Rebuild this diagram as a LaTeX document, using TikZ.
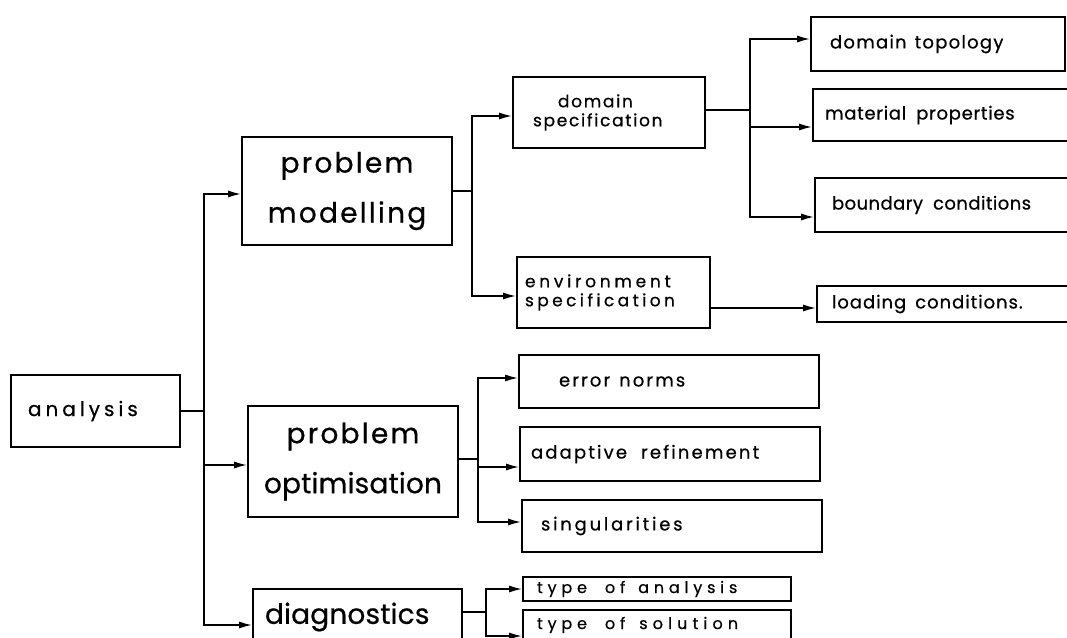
\documentclass[tikz,border=0pt]{standalone}
\usepackage{fontspec}
\setmainfont{Poppins}[FakeBold=0.6]
\usetikzlibrary{arrows.meta}
\newcommand{\lsp}[2]{{\addfontfeature{LetterSpace=#1}#2}}
\tikzset{
  box/.style={draw, line width=1.7pt, rectangle, inner sep=0pt},
  ln/.style={line width=1.7pt},
  arr/.style={line width=1.7pt, -{Latex[length=13pt,width=7pt]}},
  big/.style={font=\fontsize{28}{50}\selectfont, align=center},
  mid/.style={font=\fontsize{20}{22}\selectfont, align=left},
  sml/.style={font=\fontsize{17}{19}\selectfont, align=left},
  rgt/.style={font=\fontsize{18}{20}\selectfont, align=left},
  tiny/.style={font=\fontsize{16}{18}\selectfont, align=left}
}
\begin{document}
\begin{tikzpicture}[x=1pt,y=-1pt]
\useasboundingbox (0,0) rectangle (1067,637);
% level 0
\node[box, mid, minimum width=169pt, minimum height=72pt, text width=135pt] (an) at (95.5,411) {\lsp{20}{analysis}};
% level 1
\node[box, big, minimum width=210pt, minimum height=108pt, text width=200pt] (pm) at (347,191) {\lsp{8}{problem}\\\lsp{8}{modelling}};
\node[box, big, minimum width=210pt, minimum height=111pt, text width=200pt] (po) at (353,461.5) {\lsp{8}{problem}\\\lsp{0.6}{optimisation}};
\node[box, big, align=left, minimum width=209pt, minimum height=56pt, text width=185pt] (dg) at (357.5,617) {\lsp{0.6}{diagnostics}};
% level 2
\node[box, sml, minimum width=192pt, minimum height=71pt, text width=152pt] (ds) at (609,112.5) {\hspace*{25pt}\lsp{10}{domain}\\\lsp{10}{specification}};
\node[box, sml, minimum width=193pt, minimum height=71pt, text width=177pt] (es) at (613.5,292.5) {\lsp{22}{environment}\\\lsp{20}{specification}};
\node[box, rgt, minimum width=300pt, minimum height=53pt, text width=220pt] (en) at (669,381.5) {\lsp{11.6}{error}\hspace{9pt}\lsp{11.6}{norms}};
\node[box, rgt, minimum width=300pt, minimum height=54pt, text width=278pt] (ar) at (670,454) {\lsp{12}{adaptive}\hspace{14pt}\lsp{12}{refinement}};
\node[box, rgt, minimum width=300pt, minimum height=52pt, text width=262pt] (si) at (672,526) {\lsp{15.4}{singularities}};
\node[box, tiny, minimum width=268pt, minimum height=24pt, text width=240pt] (ta) at (657,589) {\lsp{30}{type}\hspace{18pt}\lsp{30}{of}\hspace{13pt}\lsp{30}{analysis}};
\node[box, tiny, minimum width=268pt, minimum height=30pt, text width=240pt] (ts) at (657,625) {\lsp{30}{type}\hspace{18pt}\lsp{30}{of}\hspace{14pt}\lsp{32}{solution}};
% level 3
\node[box, rgt, minimum width=254pt, minimum height=54pt, text width=216pt] (dt) at (938,44) {\lsp{7}{domain}\hspace{8pt}\lsp{7}{topology}};
\node[box, rgt, minimum width=262pt, minimum height=52pt, text width=238pt] (mp) at (944,115) {\lsp{4}{material}\hspace{10pt}\lsp{4}{properties}};
\node[box, rgt, minimum width=260pt, minimum height=54pt, text width=226pt] (bc) at (945,205) {\lsp{2.5}{boundary}\hspace{10pt}\lsp{2.5}{conditions}};
\node[box, rgt, minimum width=258pt, minimum height=36pt, text width=228pt] (lc) at (946,304) {\lsp{5.4}{loading}\hspace{9pt}\lsp{5.4}{conditions.}};
% connectors
\coordinate (t0) at (204,411);
\draw[ln] (an.east) -- (t0);
\draw[arr] (t0) |- ([yshift=-3pt]pm.west);
\draw[arr] (t0) |- ([yshift=-3.5pt]po.west);
\draw[arr] (t0) |- ([yshift=-8pt]dg.west);
\coordinate (j1) at (472,191);
\draw[ln] (pm.east) -- (j1);
\draw[arr] (j1) |- ([yshift=-3.5pt]ds.west);
\draw[arr] (j1) |- ([yshift=-3.5pt]es.west);
\coordinate (j2) at (750,110);
\draw[ln] ([yshift=2.5pt]ds.east) -- (j2);
\draw[arr] (j2) |- ([yshift=5pt]dt.west);
\draw[arr] (j2) |- ([yshift=-12pt]mp.west);
\draw[arr] (j2) |- ([yshift=-12pt]bc.west);
\draw[arr] ([yshift=-15.5pt]es.east) -- ([yshift=-4pt]lc.west);
\coordinate (j3) at (478,459);
\draw[ln] ([yshift=2.5pt]po.east) -- (j3);
\draw[arr] (j3) |- ([yshift=3.5pt]en.west);
\draw[arr] (j3) |- ([yshift=-13pt]ar.west);
\draw[arr] (j3) |- ([yshift=4pt]si.west);
\coordinate (j4) at (486,612);
\draw[ln] ([yshift=5pt]dg.east) -- (j4);
\draw[arr] (j4) |- (ta.west);
\draw[arr] (j4) |- ([yshift=-11pt]ts.west);
\end{tikzpicture}
\end{document}
